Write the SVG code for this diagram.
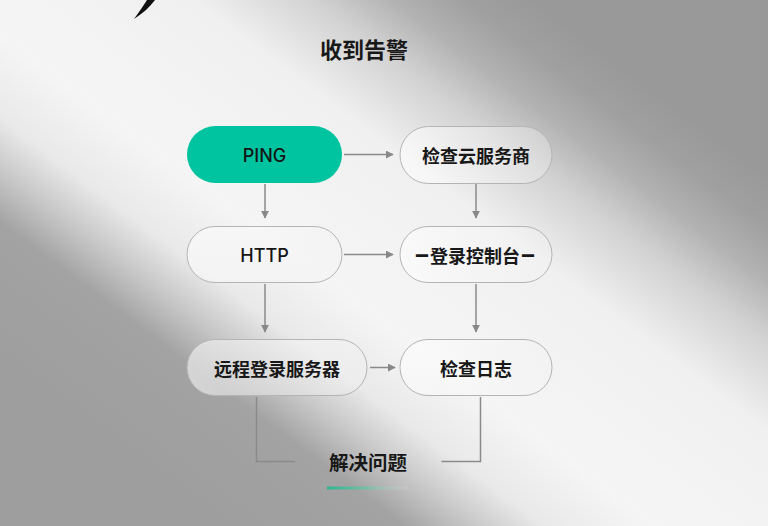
<svg xmlns="http://www.w3.org/2000/svg" width="768" height="526" viewBox="0 0 768 526">
  <defs>
    <linearGradient id="bg" gradientUnits="userSpaceOnUse" x1="204" y1="503" x2="564" y2="23">
      <stop offset="0" stop-color="#9e9e9e"/>
      <stop offset="0.17" stop-color="#a3a3a3"/>
      <stop offset="0.24" stop-color="#c8c8c8"/>
      <stop offset="0.31" stop-color="#e9e9e9"/>
      <stop offset="0.42" stop-color="#f5f5f5"/>
      <stop offset="0.66" stop-color="#f0f0f0"/>
      <stop offset="0.78" stop-color="#d2d2d2"/>
      <stop offset="0.86" stop-color="#b2b2b2"/>
      <stop offset="0.93" stop-color="#a0a0a0"/>
      <stop offset="1" stop-color="#999999"/>
    </linearGradient>
    <linearGradient id="node" x1="0" y1="0" x2="1" y2="0">
      <stop offset="0" stop-color="#ffffff" stop-opacity="0.55"/>
      <stop offset="1" stop-color="#f2f2f2" stop-opacity="0.35"/>
    </linearGradient>
    <linearGradient id="ul" x1="0" y1="0" x2="1" y2="0">
      <stop offset="0" stop-color="#2fb58f"/>
      <stop offset="0.5" stop-color="#6cc2a7" stop-opacity="0.8"/>
      <stop offset="1" stop-color="#d8d8d8" stop-opacity="0.2"/>
    </linearGradient>
    <marker id="ah" viewBox="0 0 10 10" refX="9" refY="5" markerWidth="8" markerHeight="8" markerUnits="userSpaceOnUse" orient="auto">
      <path d="M0,0 L10,5 L0,10 Z" fill="#888888"/>
    </marker>
    <style>
      .box { fill: url(#node); stroke: #b4b4b4; stroke-width: 1; }
      .lbl { font-family: "Noto Sans CJK SC", "Noto Sans", sans-serif; font-size: 18px; font-weight: 600; fill: #181818; text-anchor: middle; dominant-baseline: central; }
      .lat { font-family: Inter, "Liberation Sans", sans-serif; font-size: 18px; font-weight: 500; fill: #151515; text-anchor: middle; dominant-baseline: central; }
      .dash { font-family: "Liberation Sans", sans-serif; font-weight: 700; font-size: 24px; }
      .edge { fill: none; stroke: #8a8a8a; stroke-width: 1.5; }
    </style>
  </defs>

  <rect x="0" y="0" width="768" height="526" fill="url(#bg)"/>
  <path d="M134,19 C139,12 144,5 147,0 L155,0 C150,7 143,13 134,19 Z" fill="#111111"/>

  <text x="364" y="48" class="lbl" style="font-size:22px">收到告警</text>

  <g id="connectors">
    <line class="edge" x1="344" y1="154.5" x2="393" y2="154.5" marker-end="url(#ah)"/>
    <line class="edge" x1="344" y1="254.5" x2="393" y2="254.5" marker-end="url(#ah)"/>
    <line class="edge" x1="370" y1="367.5" x2="395" y2="367.5" marker-end="url(#ah)"/>
    <line class="edge" x1="265" y1="184" x2="265" y2="218" marker-end="url(#ah)"/>
    <line class="edge" x1="476" y1="184" x2="476" y2="218" marker-end="url(#ah)"/>
    <line class="edge" x1="265" y1="284" x2="265" y2="332" marker-end="url(#ah)"/>
    <line class="edge" x1="476" y1="284" x2="476" y2="332" marker-end="url(#ah)"/>
    <polyline class="edge" points="256.5,397 256.5,461.5 295,461.5"/>
    <polyline class="edge" points="480.5,397 480.5,461.5 441.5,461.5"/>
  </g>

  <g id="ping">
    <rect x="187" y="126" width="155" height="57" rx="28.5" fill="#00c49f"/>
    <text x="264.5" y="155" class="lat">PING</text>
  </g>
  <g id="cloud">
    <rect x="400" y="126.5" width="152" height="57" rx="28.5" class="box"/>
    <text x="476" y="155" class="lbl">检查云服务商</text>
  </g>
  <g id="http">
    <rect x="187" y="226.5" width="155" height="56" rx="28" class="box"/>
    <text x="264.5" y="255" class="lat">HTTP</text>
  </g>
  <g id="console">
    <rect x="400" y="226.5" width="152" height="56" rx="28" class="box"/>
    <text x="475" y="255" class="lbl"><tspan class="dash" textLength="16" lengthAdjust="spacingAndGlyphs" dy="-2">-</tspan><tspan dy="2">登录控制台</tspan><tspan class="dash" textLength="16" lengthAdjust="spacingAndGlyphs" dy="-2">-</tspan></text>
  </g>
  <g id="remote">
    <rect x="187" y="339.5" width="180" height="56" rx="28" class="box"/>
    <text x="277" y="367.5" class="lbl">远程登录服务器</text>
  </g>
  <g id="logs">
    <rect x="400" y="339.5" width="152" height="56" rx="28" class="box"/>
    <text x="476" y="367.5" class="lbl">检查日志</text>
  </g>
  <g id="solve">
    <text x="368" y="461" class="lbl" style="font-size:19.5px">解决问题</text>
    <rect x="327" y="486.5" width="81" height="3" fill="url(#ul)"/>
  </g>
</svg>
